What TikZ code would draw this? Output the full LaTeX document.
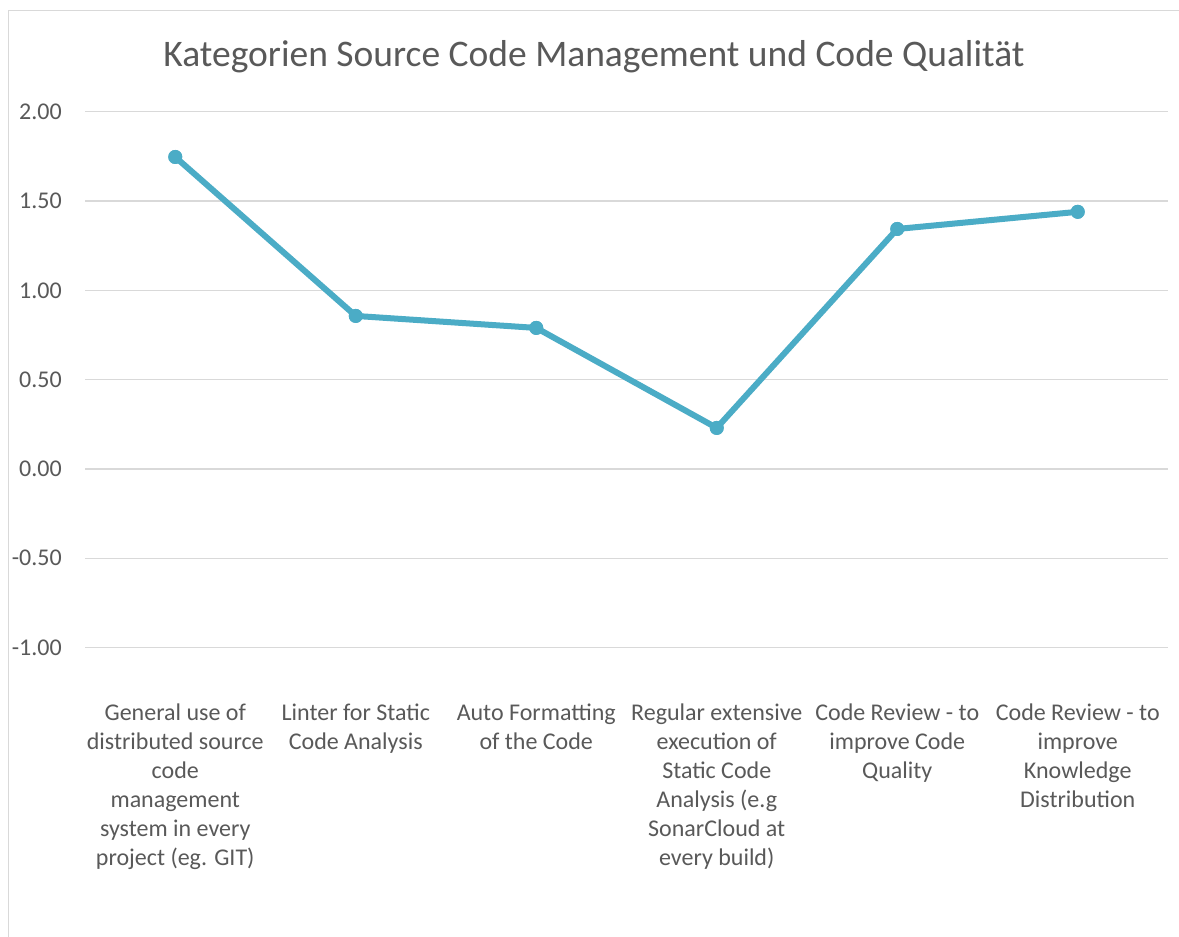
\documentclass[tikz,border=0pt]{standalone}
\usepackage{fontspec}
\setmainfont{Carlito}
\definecolor{txt}{HTML}{595959}
\definecolor{grid}{HTML}{D9D9D9}
\definecolor{series}{HTML}{4BACC6}
\begin{document}
\begin{tikzpicture}[x=1pt,y=-1pt,
  gridline/.style={draw=grid,line width=1.3pt},
  ylab/.style={anchor=east,inner sep=0pt,text=txt,font=\fontsize{24}{28}\selectfont},
  catlab/.style={anchor=north,inner sep=0pt,align=center,text=txt,font=\fontsize{24}{29}\selectfont},
  marker/.style={circle,fill=series,inner sep=0pt,minimum size=14pt},
  serline/.style={draw=series,line width=6pt,line join=round}]
\useasboundingbox (0,0) rectangle (1179,937);
\fill[white] (0,0) rectangle (1179,937);
% frame
\draw[draw=grid,line width=1.5pt] (8.5,937) -- (8.5,10.5) -- (1179,10.5);
% title
\node[text=txt,font=\fontsize{37.5}{44}\selectfont,inner sep=0pt] (title) at (594,57) {Kategorien Source Code Management und Code Qualität};
% gridlines and labels
\foreach \v/\lab [count=\i] in {2/2.00,1.5/1.50,1/1.00,0.5/0.50,0/0.00,-0.5/-0.50,-1/-1.00}{
  \draw[gridline] (85,{469-178.6*\v}) -- (1168,{469-178.6*\v});
  \node[ylab] (y\i) at (62,{469-178.6*\v}) {\lab};
}
% data points
\node[marker] (p1) at (175.25,{469-178.6*1.747}) {};
\node[marker] (p2) at (355.75,{469-178.6*0.857}) {};
\node[marker] (p3) at (536.25,{469-178.6*0.790}) {};
\node[marker] (p4) at (716.75,{469-178.6*0.230}) {};
\node[marker] (p5) at (897.25,{469-178.6*1.344}) {};
\node[marker] (p6) at (1077.75,{469-178.6*1.440}) {};
\draw[serline] (p1.center) -- (p2.center) -- (p3.center) -- (p4.center) -- (p5.center) -- (p6.center);
\foreach \n in {p1,p2,p3,p4,p5,p6}{\fill[series] (\n) circle (7pt);}
% category labels
\node[catlab] (c1) at (175.25,704) {General use of\\distributed source\\code\\management\\system in every\\project (eg. GIT)};
\node[catlab] (c2) at (355.75,704) {Linter for Static\\Code Analysis};
\node[catlab] (c3) at (536.25,704) {Auto Formatting\\of the Code};
\node[catlab] (c4) at (716.75,704) {Regular extensive\\execution of\\Static Code\\Analysis (e.g\\SonarCloud at\\every build)};
\node[catlab] (c5) at (897.25,704) {Code Review - to\\improve Code\\Quality};
\node[catlab] (c6) at (1077.75,704) {Code Review - to\\improve\\Knowledge\\Distribution};
\end{tikzpicture}
\end{document}
